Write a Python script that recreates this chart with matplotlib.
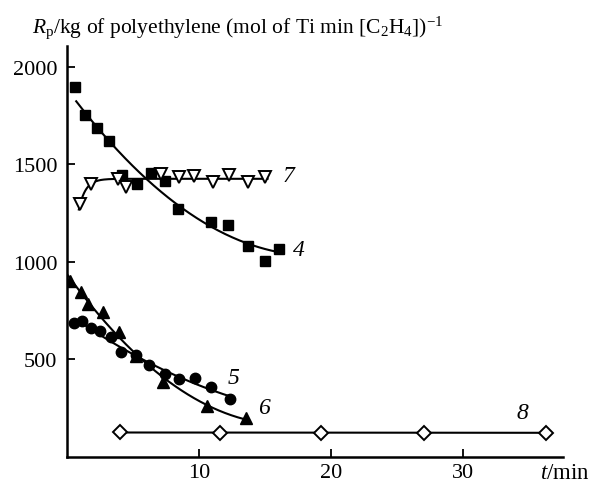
import numpy as np
import matplotlib
matplotlib.use("Agg")
import matplotlib.pyplot as plt

plt.rcParams['font.family'] = ['Liberation Serif', 'DejaVu Serif']
plt.rcParams['mathtext.fontset'] = 'custom'
plt.rcParams['mathtext.rm'] = 'Liberation Serif'
plt.rcParams['mathtext.it'] = 'Liberation Serif:italic'

# Series 4 (filled squares)
t4 = [0.6, 1.4, 2.3, 3.2, 4.2, 5.3, 6.4, 7.4, 8.4, 10.9, 12.2, 13.7, 15.0, 16.1]
r4 = [1895, 1750, 1685, 1620, 1445, 1397, 1452, 1411, 1270, 1204, 1189, 1081, 1004, 1064]
# Series 5 (filled circles)
t5 = [0.55, 1.15, 1.8, 2.5, 3.3, 4.1, 5.2, 6.2, 7.45, 8.5, 9.7, 10.95, 12.35]
r5 = [684, 697, 657, 645, 611, 534, 522, 469, 423, 397, 401, 355, 295]
# Series 6 (filled triangles)
t6 = [0.2, 1.05, 1.6, 2.7, 3.95, 5.2, 7.3, 10.65, 13.6]
r6 = [900, 842, 782, 739, 637, 517, 380, 260, 196]
# Series 7 (open down-triangles)
t7 = [1.0, 1.85, 3.85, 4.5, 7.1, 8.5, 9.6, 11.05, 12.3, 13.7, 15.0]
r7 = [1295, 1400, 1425, 1385, 1449, 1435, 1440, 1406, 1444, 1406, 1432]
# Series 8 (open diamonds)
t8 = [4.0, 11.6, 19.25, 27.1, 36.3]
r8 = [124, 122, 122, 122, 122]

curve_labels = ['4', '5', '6', '7', '8']
label_pos = [(17.6, 1064), (12.6, 406), (14.9, 250), (16.8, 1440), (34.5, 226)]

fig = plt.figure(figsize=(5.98, 4.85), dpi=100)
ax = fig.add_axes([0.112, 0.0567, 0.8295, 0.846])
ax.set_xlim(0, 37.6)
ax.set_ylim(0, 2105)

lw = 1.5
# fitted curves
x = np.linspace(t4[0] + 0.1, t4[-1], 200)
ax.plot(x, np.polyval(np.polyfit(t4, r4, 2), x), color='black', lw=lw)
x = np.linspace(t5[0] + 0.3, t5[-1], 200)
ax.plot(x, np.polyval(np.polyfit(t5, r5, 2), x), color='black', lw=lw)
x = np.linspace(0.0, t6[-1] - 0.2, 200)
ax.plot(x, np.polyval(np.polyfit(t6, r6, 2), x), color='black', lw=lw)
plateau = np.mean(r7[2:])
c1, c2 = plateau - r7[0], plateau - r7[1]
tau = (t7[1] - t7[0]) / np.log(c1 / c2)
x = np.linspace(t7[0] - 0.1, t7[-1] + 0.2, 300)
ax.plot(x, plateau - c1 * np.exp(-(x - t7[0]) / tau), color='black', lw=lw)
ax.plot(t8, np.polyval(np.polyfit(t8, r8, 1), t8), color='black', lw=lw)

ms = 7.5
ax.plot(t4, r4, 's', color='black', ms=ms, ls='none')
ax.plot(t5, r5, 'o', color='black', ms=ms, ls='none')
ax.plot(t6, r6, '^', color='black', ms=ms + 1.5, ls='none')
ax.plot(t7, r7, 'v', mfc='white', mec='black', mew=1.4, ms=ms + 1.5, ls='none')
ax.plot(t8, r8, 'D', mfc='white', mec='black', mew=1.4, ms=ms - 0.5, ls='none')

fs = 16
for lab, (lx, ly) in zip(curve_labels, label_pos):
    ax.text(lx, ly, lab, fontsize=fs + 1, style='italic', ha='center', va='center')

for s in ['top', 'right']:
    ax.spines[s].set_visible(False)
for s in ['left', 'bottom']:
    ax.spines[s].set_linewidth(1.8)

ax.set_xticks([10, 20, 30])
ax.set_yticks([500, 1000, 1500, 2000])
ax.tick_params(direction='in', length=6, width=1.3, labelsize=fs)
ax.tick_params(axis='x', pad=5)
ax.tick_params(axis='y', pad=7)

fig.text(0.903, 0.024, r'$t$/min', fontsize=fs + 0.5, ha='left', va='center')
fig.text(0.053, 0.932, r'$R_{\rm p}$/kg of polyethylene (mol of Ti min [C$_2$H$_4$])$^{-1}$',
         fontsize=15.5, ha='left', va='baseline')

fig.savefig('out.png', dpi=100)
